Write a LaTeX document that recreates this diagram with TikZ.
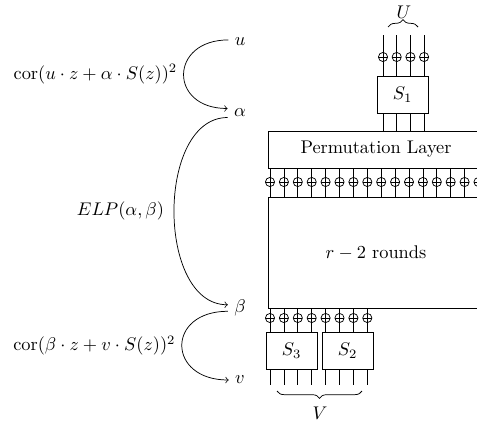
\documentclass[tikz,border=0pt]{standalone}
\usetikzlibrary{decorations.pathreplacing}
\begin{document}
\begin{tikzpicture}[x=0.545pt,y=-0.545pt,
    xorgate/.style={circle,draw,inner sep=0pt,minimum size=5pt,
      path picture={\draw (path picture bounding box.west) -- (path picture bounding box.east);}},
    sbox/.style={draw,minimum width=27.8pt,minimum height=20.2pt},
    layer/.style={draw,minimum width=117.7pt}]
  \useasboundingbox (0,0) rectangle (477,425);
  \clip (0,0) rectangle (477,425);

  \def\wsep{13.9}

  % boxes
  \node[sbox] (sone) at (402.5,94.5) {$S_1$};
  \node[layer,minimum height=20.2pt] (perm) at (376,149.5) {Permutation Layer};
  \node[layer,minimum height=60.5pt] (rounds) at (376,252.5) {$r-2$ rounds};
  \node[sbox] (sthree) at (291.5,350.5) {$S_3$};
  \node[sbox] (stwo) at (347.5,350.5) {$S_2$};

  % input wires into S_1
  \foreach \i in {0,...,3} {
    \pgfmathsetmacro{\wx}{383+\i*13.7}
    \coordinate (in\i) at (\wx,35);
    \draw (in\i) -- (in\i |- sone.north);
    \node[xorgate] (kin\i) at (\wx,57) {};
    \draw (in\i |- sone.south) -- (in\i |- perm.north);
  }

  % key addition after the permutation layer
  \foreach \i in {0,...,15} {
    \pgfmathsetmacro{\wx}{270+\i*\wsep}
    \coordinate (mid\i) at (\wx,182);
    \draw (mid\i |- perm.south) -- (mid\i |- rounds.north);
    \node[xorgate] (kmid\i) at (mid\i) {};
  }

  % last round: S_3 and S_2
  \foreach \i in {0,...,7} {
    \pgfmathsetmacro{\wx}{270+\i*\wsep}
    \coordinate (out\i) at (\wx,385);
    \draw (out\i |- rounds.south) -- (out\i |- sthree.north);
    \node[xorgate] (kout\i) at (\wx,318) {};
    \draw (out\i |- sthree.south) -- (out\i);
  }

  \draw[decorate,decoration={brace,amplitude=4pt}] (388,27) -- (418,27);
  \node (ulbl) at (404,12) {$U$};
  \draw[decorate,decoration={brace,amplitude=4pt,mirror}] (277,391) -- (362,391);
  \node (vlbl) at (320,413) {$V$};

  % trail of the approximation
  \node (u) at (240,42) {$u$};
  \node (alpha) at (240,113) {$\alpha$};
  \node (beta) at (240,308) {$\beta$};
  \node (v) at (240,380) {$v$};

  \draw[->] (u.170) to[out=180,in=180,looseness=2.2]
    node[left] {$\mathrm{cor}(u\cdot z+\alpha\cdot S(z))^2$} (alpha.160);
  \draw[->] (alpha.200) to[out=180,in=180,looseness=0.98]
    node[left,xshift=-2pt] {$ELP(\alpha,\beta)$} (beta.165);
  \draw[->] (beta.195) to[out=180,in=180,looseness=2.3]
    node[left] {$\mathrm{cor}(\beta\cdot z+v\cdot S(z))^2$} (v.west);
\end{tikzpicture}
\end{document}
